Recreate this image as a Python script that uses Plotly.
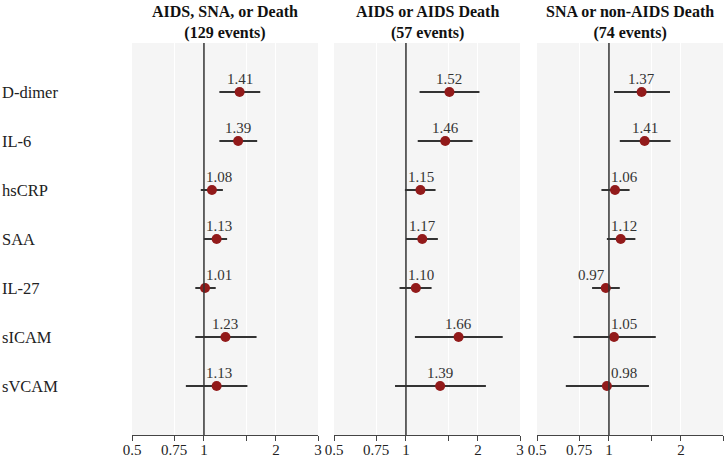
import numpy as np
import plotly.graph_objects as go

# Biomarkers (top to bottom)
markers = ['D-dimer', 'IL-6', 'hsCRP', 'SAA', 'IL-27', 'sICAM', 'sVCAM']

panel_titles = ['AIDS, SNA, or Death', 'AIDS or AIDS Death', 'SNA or non-AIDS Death']
panel_events = ['(129 events)', '(57 events)', '(74 events)']

# Hazard ratios and 95% CI
hr_any = [1.41, 1.39, 1.08, 1.13, 1.01, 1.23, 1.13]
lo_any = [1.16, 1.16, 0.97, 1.00, 0.92, 0.92, 0.84]
hi_any = [1.72, 1.67, 1.20, 1.25, 1.12, 1.66, 1.52]

hr_aids = [1.52, 1.46, 1.15, 1.17, 1.10, 1.66, 1.39]
lo_aids = [1.14, 1.12, 0.99, 1.00, 0.94, 1.09, 0.90]
hi_aids = [2.03, 1.90, 1.33, 1.36, 1.28, 2.54, 2.16]

hr_sna = [1.37, 1.41, 1.06, 1.12, 0.97, 1.05, 0.98]
lo_sna = [1.05, 1.11, 0.93, 0.98, 0.85, 0.71, 0.66]
hi_sna = [1.80, 1.81, 1.22, 1.29, 1.11, 1.57, 1.47]

tick_vals = [0.5, 0.75, 1, 1.5, 2, 3]
tick_text = ['0.5', '0.75', '1', '', '2', '3']

panels = [
    (hr_any, lo_any, hi_any),
    (hr_aids, lo_aids, hi_aids),
    (hr_sna, lo_sna, hi_sna),
]

FONT = 'Liberation Serif'
W = 726.0
domains = [[132 / W, 318 / W], [334 / W, 520 / W], [537 / W, 723 / W]]

fig = go.Figure()
annotations = []

for p, (hr, lo, hi) in enumerate(panels):
    xa = 'x' if p == 0 else 'x%d' % (p + 1)
    ya = 'y' if p == 0 else 'y%d' % (p + 1)
    idx = list(range(len(markers)))

    fig.add_trace(go.Scatter(
        x=hr, y=idx, mode='markers',
        marker=dict(color='#921a1a', size=10),
        error_x=dict(type='data', symmetric=False,
                     array=[h - m for h, m in zip(hi, hr)],
                     arrayminus=[m - l for m, l in zip(hr, lo)],
                     color='#333333', thickness=2, width=0),
        xaxis=xa, yaxis=ya, showlegend=False, hoverinfo='skip',
    ))

    # reference line at HR = 1
    fig.add_shape(type='line', xref=xa, yref=ya + ' domain',
                  x0=1, x1=1, y0=0, y1=1,
                  line=dict(color='#333333', width=1.5), layer='above')

    # value labels, pushed off the reference line like ggrepel
    for i, v in enumerate(hr):
        near = abs(np.log(v)) < 0.14
        if near and (p == 2 and i == 4):
            ann = dict(x=0, xanchor='right', xshift=-2)
        elif near:
            ann = dict(x=0, xanchor='left', xshift=0)
        else:
            ann = dict(x=np.log10(v), xanchor='center')
        ann.update(y=i, xref=xa, yref=ya, yanchor='middle', yshift=13,
                   text='%.2f' % v, showarrow=False,
                   font=dict(family=FONT, size=15, color='#333333'))
        annotations.append(ann)

    # two-line panel heading
    d = domains[p]
    annotations.append(dict(
        x=(d[0] + d[1]) / 2, y=1, xref='paper', yref='paper',
        xanchor='center', yanchor='bottom', yshift=0, borderpad=0,
        text='<b>%s<br>%s</b>' % (panel_titles[p], panel_events[p]),
        showarrow=False,
        font=dict(family=FONT, size=16, color='#111111'),
    ))

    axis_x = dict(
        type='log', domain=d, range=[np.log10(0.5), np.log10(3)],
        tickvals=tick_vals, ticktext=tick_text,
        ticks='outside', ticklen=5, tickcolor='#444444', tickwidth=1,
        ticklabelstandoff=-4,
        showline=True, linecolor='#444444', linewidth=1,
        showgrid=True, gridcolor='white', gridwidth=1,
        zeroline=False, anchor=ya, automargin=False,
        tickfont=dict(family=FONT, size=15, color='#222222'),
    )
    axis_y = dict(
        range=[len(markers), -1], showticklabels=False, ticks='',
        showgrid=False, zeroline=False, showline=False, anchor=xa,
        automargin=False,
    )
    fig.layout['xaxis' if p == 0 else 'xaxis%d' % (p + 1)] = axis_x
    fig.layout['yaxis' if p == 0 else 'yaxis%d' % (p + 1)] = axis_y

    fig.add_shape(type='rect', xref=xa + ' domain', yref=ya + ' domain',
                  x0=0, x1=1, y0=0, y1=1, fillcolor='#f5f5f5',
                  line=dict(width=0), layer='below')

# biomarker names on the far left
for i, name in enumerate(markers):
    annotations.append(dict(
        x=0, y=i, xref='paper', yref='y', xanchor='left', yanchor='middle',
        text=name, showarrow=False,
        font=dict(family=FONT, size=16.5, color='#222222'),
    ))

fig.update_layout(
    width=726, height=459,
    margin=dict(l=0, r=0, t=43, b=24),
    paper_bgcolor='white', plot_bgcolor='rgba(0,0,0,0)',
    annotations=annotations,
    font=dict(family=FONT),
)

# drop the default 8px body margin so the figure fills the window
fig.write_html('out.html', config={'displayModeBar': False},
               post_script="document.body.style.margin='0';")
